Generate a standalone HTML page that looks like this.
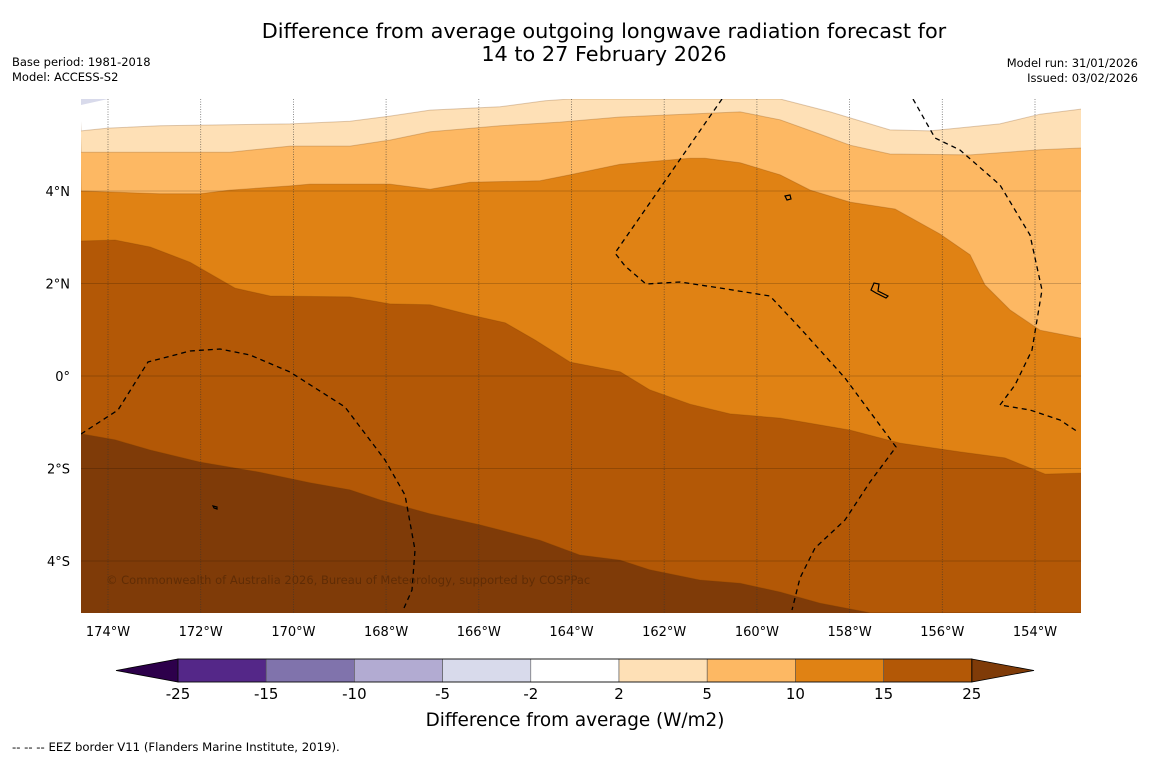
<!DOCTYPE html>
<html><head><meta charset="utf-8"><style>
body{margin:0;background:#fff;}
svg text{font-family:"DejaVu Sans","Liberation Sans",sans-serif;}
</style></head><body>
<svg id="chart" xmlns="http://www.w3.org/2000/svg" width="1150" height="758" viewBox="0 0 1150 758">
<rect width="1150" height="758" fill="#fff"/>
<text x="604" y="38" font-size="20.8" text-anchor="middle">Difference from average outgoing longwave radiation forecast for</text>
<text x="604" y="61" font-size="20.8" text-anchor="middle">14 to 27 February 2026</text>
<text x="12" y="66" font-size="11.5">Base period: 1981-2018</text>
<text x="12" y="81" font-size="11.5">Model: ACCESS-S2</text>
<text x="1138" y="67" font-size="11.5" text-anchor="end">Model run: 31/01/2026</text>
<text x="1138" y="82" font-size="11.5" text-anchor="end">Issued: 03/02/2026</text>
<g id="plot"></g>
<g id="cbar"></g>
<text x="575" y="726" font-size="18.4" text-anchor="middle">Difference from average (W/m2)</text>
<text x="12" y="751" font-size="11.7">--  --  -- EEZ border V11 (Flanders Marine Institute, 2019).</text>
</svg>
<script>
// Contour boundaries (lon, lat) for each level; region north of line is lower value
const levels = [25, 15, 10, 5, 2];
const c25Lon = [-174.58,-173.85,-173.09,-172.02,-170.72,-169.64,-168.78,-168.13,-167.05,-165.97,-164.68,-163.82,-162.95,-162.31,-161.23,-160.36,-159.50,-158.64,-157.56];
const c25Lat = [-1.25,-1.38,-1.60,-1.86,-2.08,-2.31,-2.46,-2.68,-2.98,-3.22,-3.55,-3.87,-3.98,-4.19,-4.41,-4.48,-4.67,-4.91,-5.12];
const c15Lon = [-174.58,-173.85,-173.09,-172.23,-171.26,-170.50,-168.78,-167.92,-167.05,-166.19,-165.43,-164.79,-164.03,-162.95,-162.31,-161.44,-160.58,-159.50,-157.99,-156.91,-155.62,-154.65,-153.78,-153.01];
const c15Lat = [2.92,2.94,2.79,2.46,1.90,1.73,1.71,1.56,1.54,1.32,1.15,0.78,0.30,0.09,-0.30,-0.61,-0.82,-0.91,-1.17,-1.45,-1.64,-1.77,-2.12,-2.10];
const c10Lon = [-174.58,-172.88,-172.02,-171.37,-170.07,-169.64,-167.92,-167.05,-166.19,-164.68,-164.03,-162.95,-161.44,-161.12,-160.36,-159.50,-158.85,-157.99,-157.02,-156.05,-155.40,-155.08,-154.54,-153.89,-153.01];
const c10Lat = [4.00,3.94,3.94,4.02,4.11,4.15,4.15,4.04,4.19,4.22,4.35,4.58,4.71,4.71,4.61,4.35,4.02,3.76,3.61,3.07,2.62,1.97,1.43,0.99,0.82];
const c5Lon = [-174.58,-171.37,-170.07,-168.78,-167.92,-167.05,-165.54,-164.25,-162.95,-160.36,-159.50,-158.64,-157.99,-157.13,-155.40,-153.89,-153.01];
const c5Lat = [4.84,4.84,4.97,4.97,5.10,5.28,5.41,5.49,5.60,5.71,5.54,5.23,4.99,4.80,4.78,4.89,4.93];
const c2Lon = [-174.58,-174.00,-172.88,-170.07,-168.78,-167.92,-167.05,-165.54,-164.57,-164.03,-159.50,-158.42,-157.13,-156.27,-154.76,-153.89,-153.01];
const c2Lat = [5.30,5.36,5.41,5.45,5.51,5.62,5.75,5.82,5.95,5.99,5.99,5.71,5.32,5.30,5.45,5.66,5.77];
const bandColors = ['#7f3b08','#b35806','#e08214','#fdb863','#fee0b6','#ffffff'];
const lonTicks = [-174,-172,-170,-168,-166,-164,-162,-160,-158,-156,-154];
const latTicks = [4,2,0,-2,-4];
const cbLabels = ['-25','-15','-10','-5','-2','2','5','10','15','25'];
const cbColors = ['#542788','#8073ac','#b2abd2','#d8daeb','#ffffff','#fee0b6','#fdb863','#e08214','#b35806'];

const X0=81,X1=1081,Y0=99,Y1=613;
const xS = lon => 108 + (lon + 174) * 46.35;
const yS = lat => 376 - lat * 46.25;
const NS='http://www.w3.org/2000/svg';
const plot=document.getElementById('plot');
function mk(tag,attrs,parent){const e=document.createElementNS(NS,tag);for(const k in attrs)e.setAttribute(k,attrs[k]);parent.appendChild(e);return e;}

const defs=mk('defs',{},plot);
const cp=mk('clipPath',{id:'clip'},defs);
mk('rect',{x:X0,y:Y0,width:X1-X0,height:Y1-Y0},cp);
const g=mk('g',{'clip-path':'url(#clip)'},plot);

const bg=mk('rect',{x:X0,y:Y0,width:X1-X0,height:Y1-Y0,fill:bandColors[0]},g);


const contours=[[c25Lon,c25Lat],[c15Lon,c15Lat],[c10Lon,c10Lat],[c5Lon,c5Lat],[c2Lon,c2Lat]];
contours.forEach((c,i)=>{
  const pts=c[0].map((lo,j)=>xS(lo).toFixed(1)+','+yS(c[1][j]).toFixed(1));
  const lastY=yS(c[1][c[1].length-1]).toFixed(1);
  pts.push((X1+2)+','+lastY, (X1+2)+','+(Y0-2), (X0-2)+','+(Y0-2));
  const p=mk('polygon',{points:pts.join(' '),fill:bandColors[i+1],stroke:'rgba(120,60,0,0.25)','stroke-width':1},g);
  
  
});
const lav=mk('polygon',{points:'81,99 108,99 81,105',fill:'#d8daeb'},g);



// grid
lonTicks.forEach(lo=>{
  const l=mk('line',{x1:xS(lo),x2:xS(lo),y1:Y0,y2:Y1,stroke:'#333','stroke-width':0.8,'stroke-dasharray':'1,1.5','stroke-opacity':0.7},g);
  
  
  const t=mk('text',{x:xS(lo),y:636,'font-size':13,'text-anchor':'middle'},plot);
  t.textContent=Math.abs(lo)+'°W';
  
  
});
latTicks.forEach(la=>{
  const l=mk('line',{x1:X0,x2:X1,y1:yS(la),y2:yS(la),stroke:'#000','stroke-width':1,'stroke-opacity':0.18},g);
  
  
  const t=mk('text',{x:70,y:yS(la)+5,'font-size':13,'text-anchor':'end'},plot);
  t.textContent=la===0?'0°':Math.abs(la)+'°'+(la>0?'N':'S');
  
  
});

// EEZ borders
const eez=['M81,434 L118,410 L148,362 L190,351 L220,349 L250,355 L290,372 L345,407 L385,460 L405,495 L415,550 L412,590 L404,608',
'M722,99 L615,253 L625,266 L646,284 L680,282 L720,288 L770,296 L800,328 L845,378 L896,447 L870,482 L845,520 L815,548 L800,578 L792,610',
'M913,99 L935,138 L960,150 L1000,185 L1030,235 L1042,290 L1032,350 L1015,385 L1000,405 L1030,410 L1060,420 L1078,432'];
eez.forEach(d=>{
  const p=mk('path',{d:d,fill:'none',stroke:'#000','stroke-width':1.3,'stroke-dasharray':'5,4'},g);
  
  
});
const isl=mk('path',{d:'M871,290 L874,283 L879,284 L878,291 L888,296 L886,298 L876,293 Z M785,196 L790,195 L791,199 L787,200 Z M213,506 L217,507 L217,509 L214,508 Z',fill:'none',stroke:'#000','stroke-width':1.2},g);



const cr=mk('text',{x:106,y:584,'font-size':11.5,fill:'#5a2a05','fill-opacity':0.85},plot);
cr.textContent='© Commonwealth of Australia 2026, Bureau of Meteorology, supported by COSPPac';



// colorbar
const cb=document.getElementById('cbar');
const bx0=178,bw=88.2,cy0=659,cy1=682;
const lt=mk('polygon',{points:`116,670.5 ${bx0},${cy0} ${bx0},${cy1}`,fill:'#2d004b',stroke:'#000','stroke-width':0.8},cb);


cbColors.forEach((c,i)=>{
  const r=mk('rect',{x:bx0+i*bw,y:cy0,width:bw,height:cy1-cy0,fill:c,stroke:'#555','stroke-width':0.6},cb);
  
  
});
const xe=bx0+cbColors.length*bw;
const rt=mk('polygon',{points:`${xe},${cy0} 1034,670.5 ${xe},${cy1}`,fill:'#7f3b08',stroke:'#000','stroke-width':0.8},cb);


mk('rect',{x:bx0,y:cy0,width:xe-bx0,height:cy1-cy0,fill:'none',stroke:'#000','stroke-width':0.8},cb);
cbLabels.forEach((s,i)=>{
  const t=mk('text',{x:bx0+i*bw,y:699,'font-size':15,'text-anchor':'middle'},cb);
  t.textContent=s;
  
  
});
</script>
</body></html>
